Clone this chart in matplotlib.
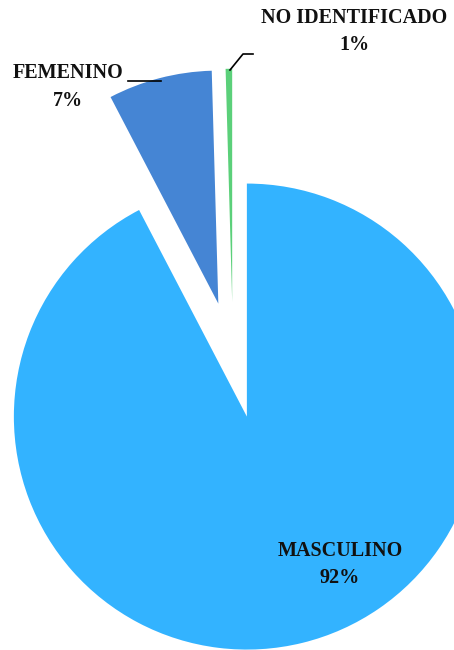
import matplotlib
matplotlib.use("Agg")
from matplotlib import pyplot as plt

categories = ["MASCULINO", "FEMENINO", "NO IDENTIFICADO"]
values = [92.3, 7.2, 0.45]
labels_pct = ["92%", "7%", "1%"]
colors = ["#33B3FF", "#4585D4", "#5BD07A"]

W, H = 454, 650
R = 233
fig = plt.figure(figsize=(W / 100, H / 100), dpi=100)
ax = fig.add_axes([0, 0, 1, 1])

# pie in pixel space, y pointing up; explode is absolute, so scale by radius
ax.pie(values, colors=colors, startangle=90, counterclock=False,
       radius=R, center=(233, H - 360), explode=[0.25 * R] * 3,
       wedgeprops={"linewidth": 0}, frame=True)
ax.set_xlim(0, W)
ax.set_ylim(0, H)
ax.set_aspect("equal")
ax.axis("off")

font = {"family": "Liberation Serif", "weight": "bold", "size": 14.5, "color": "#111111"}

label_pos = [(340, 551, 578), (68, 73, 101), (354, 18, 45)]
for name, pct, (x, y1, y2) in zip(categories, labels_pct, label_pos):
    ax.text(x, H - y1, name, ha="center", va="center", **font)
    ax.text(x, H - y2, pct, ha="center", va="center", **font)

# leader lines
ax.plot([128, 161], [H - 81, H - 81], color="black", lw=1.2)
ax.plot([230, 243, 253], [H - 70, H - 54, H - 54], color="black", lw=1.2)

fig.savefig("out.png", dpi=100)
